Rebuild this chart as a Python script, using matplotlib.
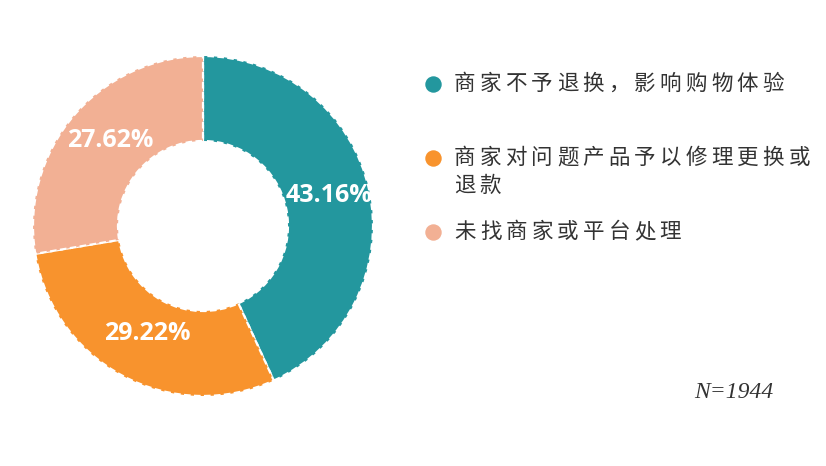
import matplotlib
matplotlib.use("Agg")
import matplotlib.pyplot as plt
import numpy as np

categories = ["商家不予退换，影响购物体验", "商家对问题产品予以修理更换或退款", "未找商家或平台处理"]
legend_lines = [["商家不予退换，影响购物体验"], ["商家对问题产品予以修理更换或", "退款"], ["未找商家或平台处理"]]
values = [43.16, 29.22, 27.62]
labels = ["43.16%", "29.22%", "27.62%"]
colors = ["#23979E", "#F8932D", "#F2B094"]
note = "N=1944"

W, H = 826, 466
fig = plt.figure(figsize=(W / 100, H / 100), dpi=100)
ax = fig.add_axes([0, 0, 1, 1])

cx, cy = 203, H - 226
R, w = 170, 85
wedges, _ = ax.pie(values, colors=colors, startangle=90, counterclock=False,
                   center=(cx, cy), radius=R, frame=True,
                   wedgeprops=dict(width=w, edgecolor="white", linewidth=1.6, linestyle=(0, (3, 1.5))))
ax.set_xlim(0, W)
ax.set_ylim(0, H)
ax.set_aspect("equal")
ax.axis("off")

for wd, lab in zip(wedges, labels):
    ang = np.deg2rad((wd.theta1 + wd.theta2) / 2)
    r = 126
    ax.text(cx + r * np.cos(ang) + 3, cy + r * np.sin(ang) + 4, lab, ha="center", va="center",
            color="white", fontsize=18, fontweight="bold", family=["Open Sans", "DejaVu Sans"])

# legend
row_y = [[84], [158, 186], [232]]
adv = 25.7
for lines, ys, col in zip(legend_lines, row_y, colors):
    ax.scatter([433], [H - ys[0]], s=140, color=col, marker="o", zorder=3, linewidths=0)
    for line, y in zip(lines, ys):
        for i, ch in enumerate(line):
            ax.text(452 + i * adv + adv / 2, H - y, ch, ha="center", va="center",
                    fontsize=15.5, color="#333333", family=["Noto Sans CJK SC", "DejaVu Sans"])

ax.text(734, H - 392, note, ha="center", va="center", fontsize=17, style="italic",
        color="#333333", family=["Liberation Serif", "DejaVu Serif"])

fig.savefig("out.png", dpi=100)
